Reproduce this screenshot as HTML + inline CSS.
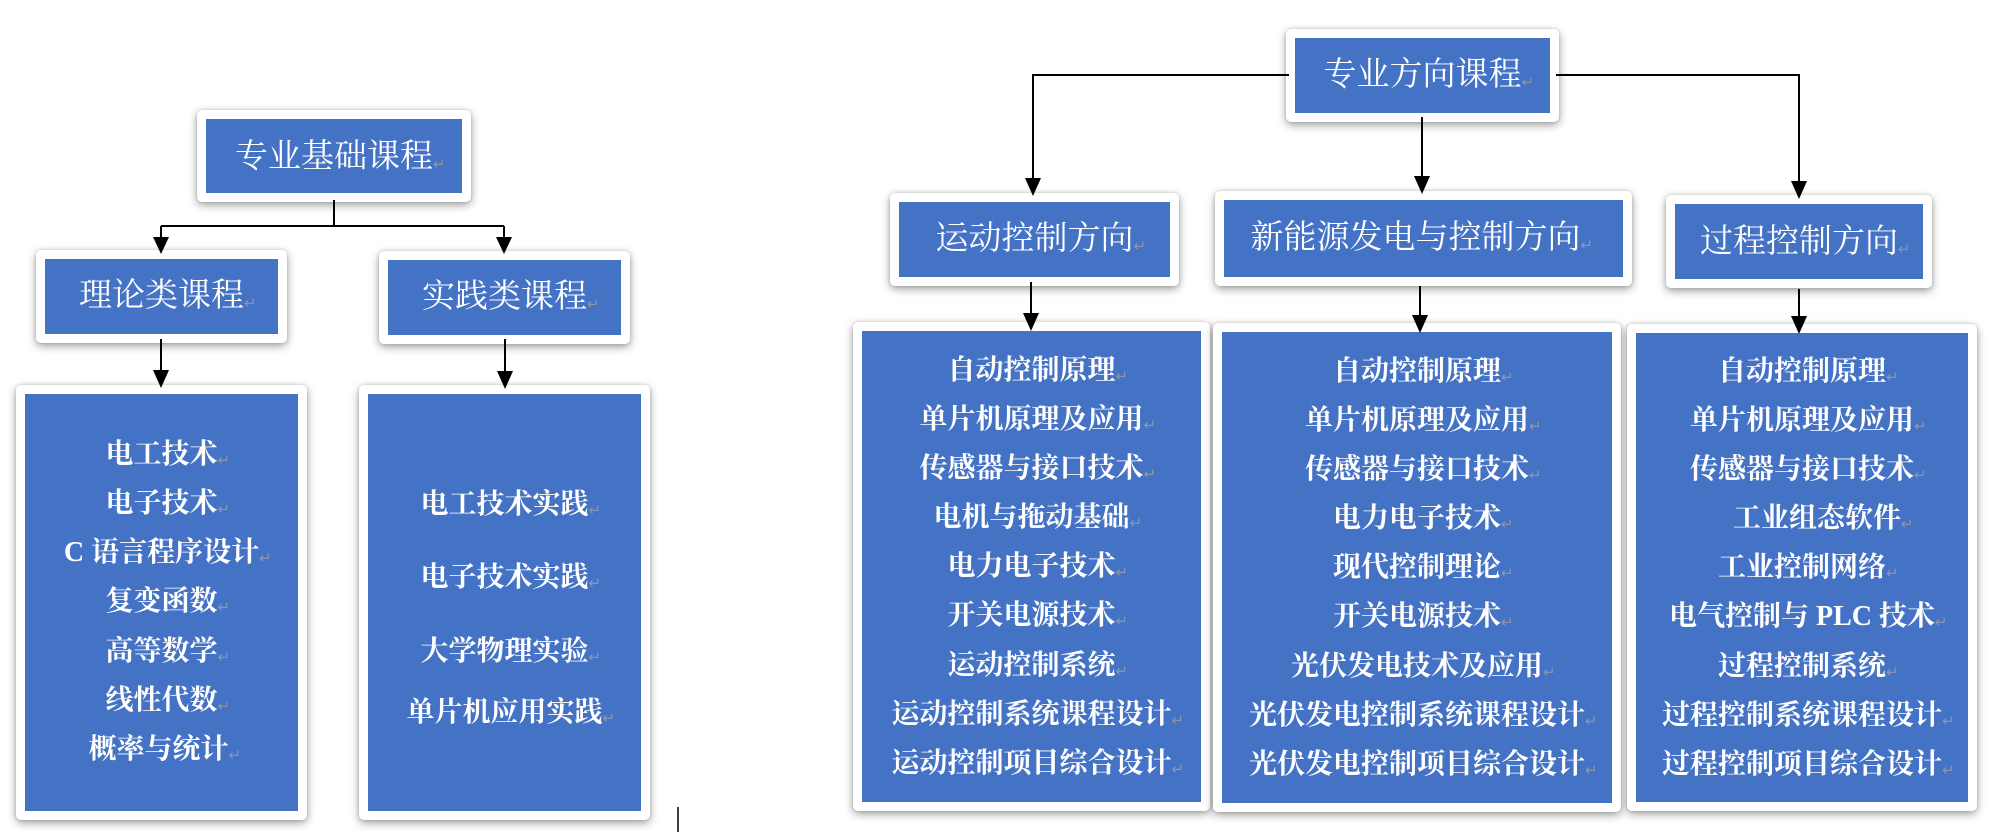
<!DOCTYPE html>
<html>
<head>
<meta charset="utf-8">
<style>
  html,body{margin:0;padding:0;}
  body{width:1996px;height:832px;position:relative;background:#fff;overflow:hidden;
       font-family:"Liberation Serif","Noto Serif CJK SC",serif;}
  .box{position:absolute;background:#fff;border-radius:5px;
       box-shadow:0 3px 9px rgba(0,0,0,0.38), 0 0 3px rgba(0,0,0,0.15);}
  .in{position:absolute;left:9px;top:9px;right:9px;bottom:9px;background:#4472C4;}
  .h{position:absolute;color:#fff;font-size:33px;font-weight:normal;text-align:center;white-space:nowrap;
     height:40px;line-height:40px;}
  .t{position:absolute;color:#fff;font-size:28px;font-weight:bold;text-align:center;white-space:nowrap;
     height:36px;line-height:36px;}
  .pm{display:inline-block;width:0;overflow:visible;color:#8a96b0;font-size:15px;font-weight:normal;
      font-family:"DejaVu Sans",sans-serif;vertical-align:-2px;white-space:nowrap;}
  svg{position:absolute;left:0;top:0;}
</style>
</head>
<body>

<!-- LEFT SIDE -->
<div class="box" style="left:197px;top:110px;width:274px;height:92px;"><div class="in"></div></div>
<div class="h" style="left:206px;width:256px;top:137px;">专业基础课程<span class="pm">↵</span></div>

<div class="box" style="left:36px;top:250px;width:251px;height:93px;"><div class="in"></div></div>
<div class="h" style="left:45px;width:233px;top:276px;">理论类课程<span class="pm">↵</span></div>

<div class="box" style="left:379px;top:251px;width:251px;height:93px;"><div class="in"></div></div>
<div class="h" style="left:388px;width:233px;top:277px;">实践类课程<span class="pm">↵</span></div>

<div class="box" style="left:16px;top:385px;width:291px;height:435px;"><div class="in"></div></div>
<div class="t" style="left:25px;width:273px;top:437px;">电工技术<span class="pm">↵</span></div>
<div class="t" style="left:25px;width:273px;top:486px;">电子技术<span class="pm">↵</span></div>
<div class="t" style="left:25px;width:273px;top:535px;">C 语言程序设计<span class="pm">↵</span></div>
<div class="t" style="left:25px;width:273px;top:584px;">复变函数<span class="pm">↵</span></div>
<div class="t" style="left:25px;width:273px;top:634px;">高等数学<span class="pm">↵</span></div>
<div class="t" style="left:25px;width:273px;top:683px;">线性代数<span class="pm">↵</span></div>
<div class="t" style="left:22px;width:273px;top:732px;">概率与统计<span class="pm">↵</span></div>

<div class="box" style="left:359px;top:385px;width:291px;height:435px;"><div class="in"></div></div>
<div class="t" style="left:368px;width:273px;top:487px;">电工技术实践<span class="pm">↵</span></div>
<div class="t" style="left:368px;width:273px;top:560px;">电子技术实践<span class="pm">↵</span></div>
<div class="t" style="left:368px;width:273px;top:634px;">大学物理实验<span class="pm">↵</span></div>
<div class="t" style="left:368px;width:273px;top:695px;">单片机应用实践<span class="pm">↵</span></div>

<!-- RIGHT SIDE -->
<div class="box" style="left:1286px;top:29px;width:273px;height:93px;"><div class="in"></div></div>
<div class="h" style="left:1295px;width:255px;top:55px;">专业方向课程<span class="pm">↵</span></div>

<div class="box" style="left:890px;top:193px;width:289px;height:93px;"><div class="in"></div></div>
<div class="h" style="left:899px;width:271px;top:219px;">运动控制方向<span class="pm">↵</span></div>

<div class="box" style="left:1215px;top:191px;width:417px;height:95px;"><div class="in"></div></div>
<div class="h" style="left:1216px;width:399px;top:218px;">新能源发电与控制方向<span class="pm">↵</span></div>

<div class="box" style="left:1666px;top:195px;width:266px;height:93px;"><div class="in"></div></div>
<div class="h" style="left:1675px;width:248px;top:222px;">过程控制方向<span class="pm">↵</span></div>

<!-- list 1 -->
<div class="box" style="left:853px;top:322px;width:357px;height:489px;"><div class="in"></div></div>
<div class="t" style="left:862px;width:339px;top:353px;">自动控制原理<span class="pm">↵</span></div>
<div class="t" style="left:862px;width:339px;top:402px;">单片机原理及应用<span class="pm">↵</span></div>
<div class="t" style="left:862px;width:339px;top:451px;">传感器与接口技术<span class="pm">↵</span></div>
<div class="t" style="left:862px;width:339px;top:500px;">电机与拖动基础<span class="pm">↵</span></div>
<div class="t" style="left:862px;width:339px;top:549px;">电力电子技术<span class="pm">↵</span></div>
<div class="t" style="left:862px;width:339px;top:598px;">开关电源技术<span class="pm">↵</span></div>
<div class="t" style="left:862px;width:339px;top:648px;">运动控制系统<span class="pm">↵</span></div>
<div class="t" style="left:862px;width:339px;top:697px;">运动控制系统课程设计<span class="pm">↵</span></div>
<div class="t" style="left:862px;width:339px;top:746px;">运动控制项目综合设计<span class="pm">↵</span></div>

<!-- list 2 -->
<div class="box" style="left:1213px;top:323px;width:408px;height:489px;"><div class="in"></div></div>
<div class="t" style="left:1222px;width:390px;top:354px;">自动控制原理<span class="pm">↵</span></div>
<div class="t" style="left:1222px;width:390px;top:403px;">单片机原理及应用<span class="pm">↵</span></div>
<div class="t" style="left:1222px;width:390px;top:452px;">传感器与接口技术<span class="pm">↵</span></div>
<div class="t" style="left:1222px;width:390px;top:501px;">电力电子技术<span class="pm">↵</span></div>
<div class="t" style="left:1222px;width:390px;top:550px;">现代控制理论<span class="pm">↵</span></div>
<div class="t" style="left:1222px;width:390px;top:599px;">开关电源技术<span class="pm">↵</span></div>
<div class="t" style="left:1222px;width:390px;top:649px;">光伏发电技术及应用<span class="pm">↵</span></div>
<div class="t" style="left:1222px;width:390px;top:698px;">光伏发电控制系统课程设计<span class="pm">↵</span></div>
<div class="t" style="left:1222px;width:390px;top:747px;">光伏发电控制项目综合设计<span class="pm">↵</span></div>

<!-- list 3 -->
<div class="box" style="left:1627px;top:324px;width:350px;height:487px;"><div class="in"></div></div>
<div class="t" style="left:1636px;width:332px;top:354px;">自动控制原理<span class="pm">↵</span></div>
<div class="t" style="left:1636px;width:332px;top:403px;">单片机原理及应用<span class="pm">↵</span></div>
<div class="t" style="left:1636px;width:332px;top:452px;">传感器与接口技术<span class="pm">↵</span></div>
<div class="t" style="left:1651px;width:332px;top:501px;">工业组态软件<span class="pm">↵</span></div>
<div class="t" style="left:1636px;width:332px;top:550px;">工业控制网络<span class="pm">↵</span></div>
<div class="t" style="left:1636px;width:332px;top:599px;">电气控制与 PLC 技术<span class="pm">↵</span></div>
<div class="t" style="left:1636px;width:332px;top:649px;">过程控制系统<span class="pm">↵</span></div>
<div class="t" style="left:1636px;width:332px;top:698px;">过程控制系统课程设计<span class="pm">↵</span></div>
<div class="t" style="left:1636px;width:332px;top:747px;">过程控制项目综合设计<span class="pm">↵</span></div>

<!-- connectors -->
<svg width="1996" height="832" viewBox="0 0 1996 832">
  <g stroke="#000" stroke-width="2" fill="none">
    <!-- left tree -->
    <line x1="334" y1="200" x2="334" y2="227"/>
    <line x1="161" y1="226" x2="504" y2="226"/>
    <line x1="161" y1="226" x2="161" y2="240"/>
    <line x1="504" y1="226" x2="504" y2="240"/>
    <line x1="161" y1="339" x2="161" y2="372"/>
    <line x1="505" y1="339" x2="505" y2="373"/>
    <!-- right tree -->
    <line x1="1289" y1="75" x2="1033" y2="75"/>
    <line x1="1033" y1="74" x2="1033" y2="180"/>
    <line x1="1556" y1="75" x2="1799" y2="75"/>
    <line x1="1799" y1="74" x2="1799" y2="183"/>
    <line x1="1422" y1="117" x2="1422" y2="178"/>
    <line x1="1031" y1="282" x2="1031" y2="315"/>
    <line x1="1420" y1="286" x2="1420" y2="317"/>
    <line x1="1799" y1="289" x2="1799" y2="318"/>
  </g>
  <g fill="#000">
    <polygon points="153,237 169,237 161,254"/>
    <polygon points="496,237 512,237 504,254"/>
    <polygon points="153,370 169,370 161,388"/>
    <polygon points="497,371 513,371 505,389"/>
    <polygon points="1025,178 1041,178 1033,196"/>
    <polygon points="1791,181 1807,181 1799,199"/>
    <polygon points="1414,176 1430,176 1422,194"/>
    <polygon points="1023,313 1039,313 1031,331"/>
    <polygon points="1412,315 1428,315 1420,333"/>
    <polygon points="1791,316 1807,316 1799,334"/>
  </g>
  <line x1="678" y1="807" x2="678" y2="832" stroke="#000" stroke-width="1.5"/>
</svg>

</body>
</html>
